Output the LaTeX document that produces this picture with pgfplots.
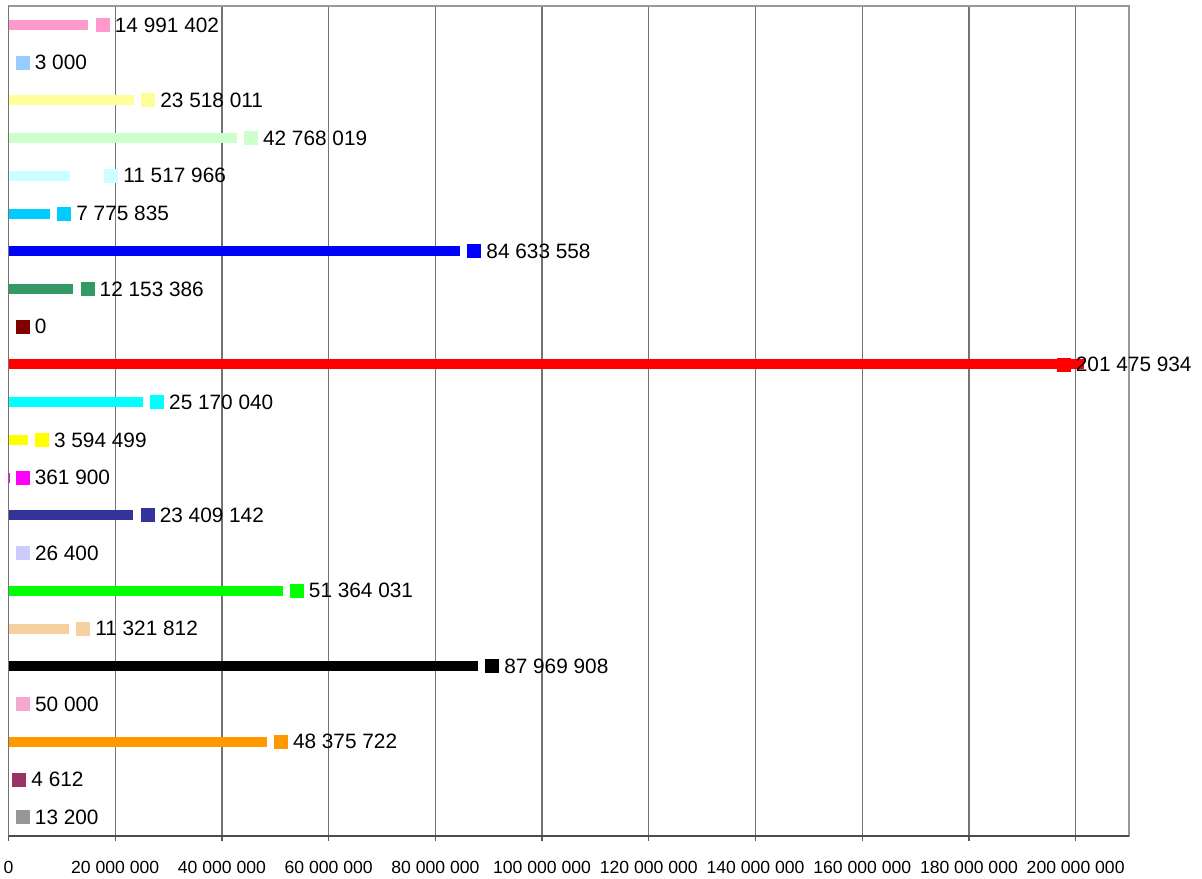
\documentclass[border=0pt]{standalone}
\usepackage{pgfplots}
\pgfplotsset{compat=1.18}
\usepackage{fontspec}
\setmainfont{Liberation Sans}

\definecolor{cgrey}{HTML}{969696}
\definecolor{cplum}{HTML}{993366}
\definecolor{corange}{HTML}{FF9900}
\definecolor{cpinkdot}{HTML}{F6A9D0}
\definecolor{cblack}{HTML}{000000}
\definecolor{ctan}{HTML}{F7D0A2}
\definecolor{cgreen}{HTML}{00FF00}
\definecolor{clavender}{HTML}{CCCCFF}
\definecolor{cindigo}{HTML}{333399}
\definecolor{cmagenta}{HTML}{FF00FF}
\definecolor{cyellow}{HTML}{FFFF00}
\definecolor{ccyan}{HTML}{00FFFF}
\definecolor{cred}{HTML}{FF0000}
\definecolor{cmaroon}{HTML}{800000}
\definecolor{cseagreen}{HTML}{339966}
\definecolor{cblue}{HTML}{0000FF}
\definecolor{csky}{HTML}{00CCFF}
\definecolor{clightcyan}{HTML}{CCFFFF}
\definecolor{clightgreen}{HTML}{CCFFCC}
\definecolor{clightyellow}{HTML}{FFFF99}
\definecolor{clightblue}{HTML}{99CCFF}
\definecolor{cpink}{HTML}{FF99CC}

% value, position, colour, label, label shift
\newcommand\cat[5]{%
  \addplot[fill=#3, draw=none,
    nodes near coords={\textcolor{#3}{\rule{7pt}{7pt}}\hspace{2.5pt}#4},
    every node near coord/.append style={anchor=west, inner sep=0pt,
      xshift=#5, font=\fontsize{10.4}{12}\selectfont}]
    coordinates {(#1,#2)};}

\begin{document}
\begin{tikzpicture}
  \begin{axis}[
    scale only axis,
    width=560.25pt, height=415pt,
    xmin=0, xmax=210000000,
    ymin=0.5, ymax=22.5,
    xbar, bar width=5pt, bar shift=0pt,
    clip=false,
    xtick={0,20000000,40000000,60000000,80000000,100000000,120000000,140000000,160000000,180000000,200000000},
    xticklabels={0,20 000 000,40 000 000,60 000 000,80 000 000,100 000 000,120 000 000,140 000 000,160 000 000,180 000 000,200 000 000},
    xticklabel style={font=\fontsize{8.8}{10}\selectfont, yshift=-6.5pt},
    ytick=\empty,
    xtick pos=bottom,
    tick align=outside,
    major tick length=2.5pt,
    xtick style={draw=black!65, line width=0.6pt},
    xmajorgrids,
    grid style={draw=black!55, line width=0.6pt},
    axis line style={draw=black!40, line width=0.6pt},
  ]
    \cat{13200}{1}{cgrey}{13 200}{3.5pt}
    \cat{4612}{2}{cplum}{4 612}{1.75pt}
    \cat{48375722}{3}{corange}{48 375 722}{3.5pt}
    \cat{50000}{4}{cpinkdot}{50 000}{3.5pt}
    \cat{87969908}{5}{cblack}{87 969 908}{3.5pt}
    \cat{11321812}{6}{ctan}{11 321 812}{3.5pt}
    \cat{51364031}{7}{cgreen}{51 364 031}{3.5pt}
    \cat{26400}{8}{clavender}{26 400}{3.5pt}
    \cat{23409142}{9}{cindigo}{23 409 142}{3.5pt}
    \cat{361900}{10}{cmagenta}{361 900}{2.5pt}
    \cat{3594499}{11}{cyellow}{3 594 499}{3.5pt}
    \cat{25170040}{12}{ccyan}{25 170 040}{3.5pt}
    \cat{201475934}{13}{cred}{201 475 934}{-13.5pt}
    \cat{0}{14}{cmaroon}{0}{3.5pt}
    \cat{12153386}{15}{cseagreen}{12 153 386}{3.5pt}
    \cat{84633558}{16}{cblue}{84 633 558}{3.5pt}
    \cat{7775835}{17}{csky}{7 775 835}{3.5pt}
    \cat{11517966}{18}{clightcyan}{11 517 966}{17pt}
    \cat{42768019}{19}{clightgreen}{42 768 019}{3.5pt}
    \cat{23518011}{20}{clightyellow}{23 518 011}{3.5pt}
    \cat{3000}{21}{clightblue}{3 000}{3.5pt}
    \cat{14991402}{22}{cpink}{14 991 402}{3.5pt}
    \draw[black!70, line width=0.6pt] (rel axis cs:0,0) -- (rel axis cs:1,0);
    \draw[black!55, line width=0.6pt] (rel axis cs:0,0) -- (rel axis cs:0,1);
  \end{axis}
  \pgfresetboundingbox
  \path ([xshift=-4.25pt, yshift=-21pt]current axis.south west)
    rectangle ([xshift=36.5pt, yshift=3pt]current axis.north east);
\end{tikzpicture}
\end{document}
